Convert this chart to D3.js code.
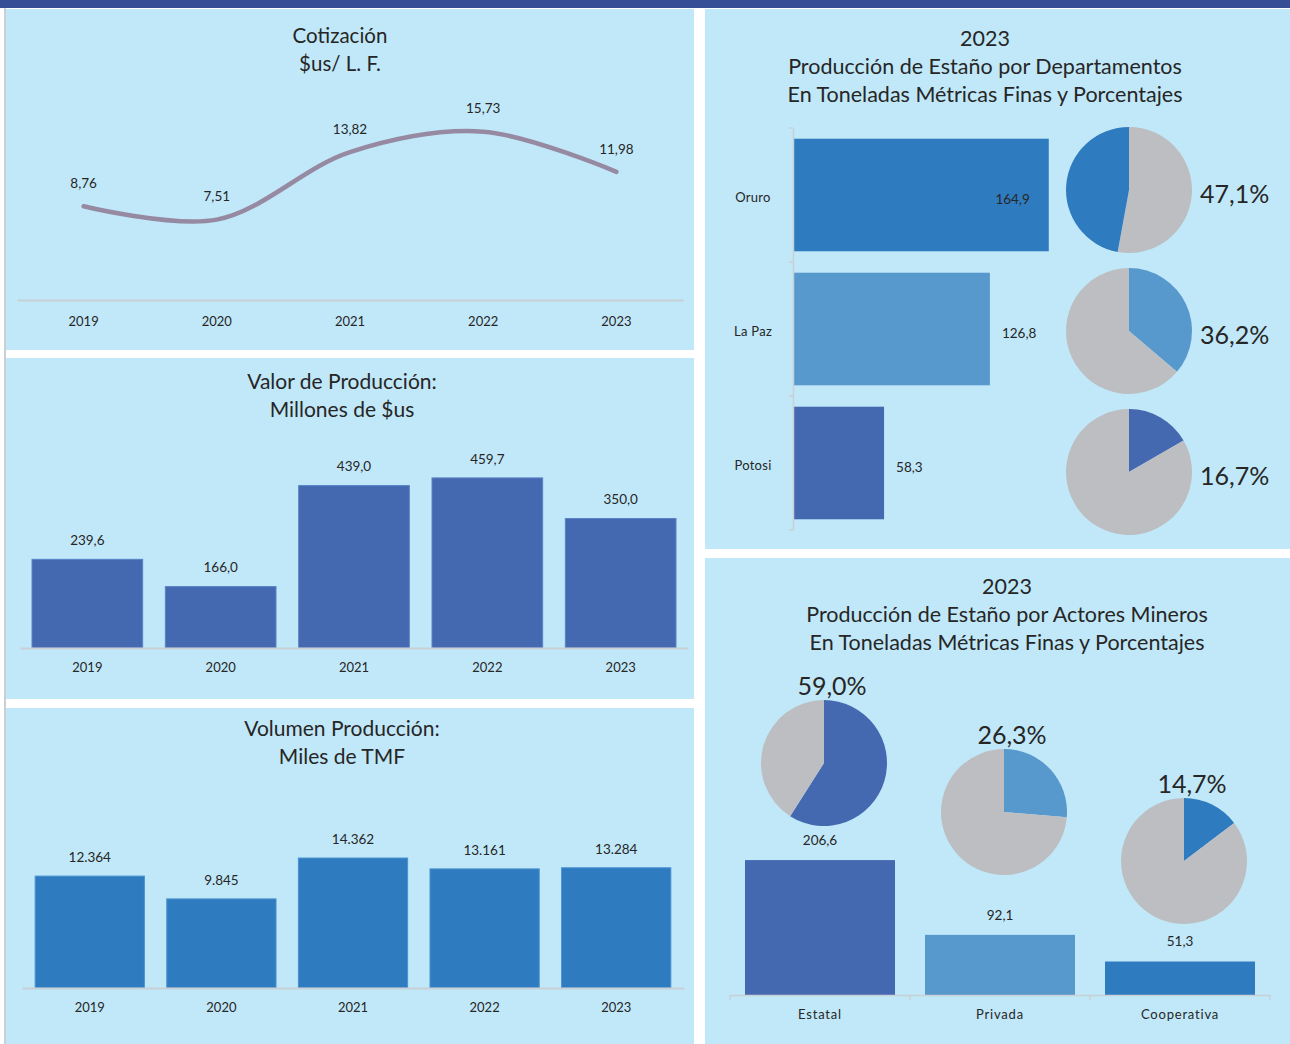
<!DOCTYPE html>
<html>
<head>
<meta charset="utf-8">
<script src="https://cdn.jsdelivr.net/npm/d3@7"></script>
<style>
  body { margin: 0; background: #fff; }
  text { font-family: Lato, "Open Sans", sans-serif; fill: #262626; }
</style>
</head>
<body>
<div id="chart"></div>
<script>
const years = ["2019", "2020", "2021", "2022", "2023"];
const cotizacion = [8.76, 7.51, 13.82, 15.73, 11.98];
const valorProduccion = [239.6, 166.0, 439.0, 459.7, 350.0];
const volumenProduccion = [12364, 9845, 14362, 13161, 13284];

const departamentos = ["Oruro", "La Paz", "Potosi"];
const deptToneladas = [164.9, 126.8, 58.3];
const deptColors = ["#2f7bbf", "#5899cd", "#4469b0"];

const actores = ["Estatal", "Privada", "Cooperativa"];
const actorToneladas = [206.6, 92.1, 51.3];
const actorColors = ["#4469b0", "#5899cd", "#2f7bbf"];

const pieGrey = "#bcbec2";
const panelFill = "#c1e8f9";
const axisGrey = "#c8cfd5";

const locale = d3.formatLocale({decimal: ",", thousands: ".", grouping: [3], currency: ["$", ""]});
const f2 = locale.format(".2f"), f1 = locale.format(".1f"), fInt = locale.format(",d");
const fPct = locale.format(".1%");

const width = 1290, height = 1044;
const svg = d3.select("#chart").append("svg")
  .attr("width", width).attr("height", height);

// frame
svg.append("rect").attr("x", 0).attr("y", 0).attr("width", width).attr("height", 8).attr("fill", "#354e96");
svg.append("line").attr("x1", 5).attr("x2", 5).attr("y1", 8).attr("y2", height).attr("stroke", "#9aa0a6").attr("stroke-width", 1);
const panels = [
  [6, 9, 688, 341], [6, 358, 688, 341], [6, 708, 688, 336],
  [705, 9, 585, 540], [705, 558, 585, 486]
];
svg.selectAll("rect.panel").data(panels).join("rect")
  .attr("class", "panel")
  .attr("x", d => d[0]).attr("y", d => d[1])
  .attr("width", d => d[2]).attr("height", d => d[3])
  .attr("fill", panelFill);

function title(lines, cx, y0, size) {
  svg.append("g").selectAll("text").data(lines).join("text")
    .attr("x", cx).attr("y", (d, i) => y0 + i * 28)
    .attr("dy", "0.35em")
    .attr("text-anchor", "middle")
    .style("font-size", size + "px")
    .text(d => d);
}

function styleAxis(g) {
  g.select(".domain").attr("stroke", axisGrey).attr("stroke-width", 2);
  g.selectAll(".tick line").remove();
  g.selectAll(".tick text").style("font-size", "13px").attr("fill", "#262626");
}

// ---- Cotización (line)
title(["Cotización", "$us/ L. F."], 340, 36, 20.5);
{
  const x = d3.scaleBand().domain(years).range([17, 683]);
  const y = d3.scaleLinear().domain([0, 20]).range([300, 86]);
  const cx = d => x(d) + x.bandwidth() / 2;
  const pts = years.map((yr, i) => ({yr, v: cotizacion[i]}));

  svg.append("g")
    .attr("transform", "translate(0,300)")
    .call(d3.axisBottom(x).tickSize(0).tickPadding(17))
    .call(styleAxis);

  const line = d3.line().curve(d3.curveCatmullRom.alpha(0.5))
    .x(d => cx(d.yr)).y(d => y(d.v));
  svg.append("path").datum(pts)
    .attr("d", line)
    .attr("fill", "none")
    .attr("stroke", "#968aa3")
    .attr("stroke-width", 4.5)
    .attr("stroke-linecap", "round");

  svg.append("g").selectAll("text").data(pts).join("text")
    .attr("x", d => cx(d.yr)).attr("y", d => y(d.v) - 23)
    .attr("dy", "0.35em").attr("text-anchor", "middle")
    .style("font-size", "13.5px")
    .text(d => f2(d.v));
}

// ---- vertical bar charts for years
function yearBars(values, fmt, opts) {
  const x = d3.scaleBand().domain(years).range(opts.xRange)
    .paddingInner(0.17).paddingOuter(opts.outer);
  const y = d3.scaleLinear().domain([0, opts.max]).range([opts.base, opts.top]);
  const data = years.map((yr, i) => ({yr, v: values[i]}));

  svg.append("g").selectAll("rect").data(data).join("rect")
    .attr("x", d => x(d.yr)).attr("y", d => y(d.v))
    .attr("width", x.bandwidth()).attr("height", d => y(0) - y(d.v))
    .attr("fill", opts.color)
    .attr("stroke", opts.edge).attr("stroke-width", 1);

  svg.append("g")
    .attr("transform", `translate(0,${opts.base})`)
    .call(d3.axisBottom(x).tickSize(0).tickPadding(15))
    .call(styleAxis);

  svg.append("g").selectAll("text").data(data).join("text")
    .attr("x", d => x(d.yr) + x.bandwidth() / 2).attr("y", d => y(d.v) - 19)
    .attr("dy", "0.35em").attr("text-anchor", "middle")
    .style("font-size", "13.5px")
    .text(d => fmt(d.v));
}

title(["Valor de Producción:", "Millones de $us"], 342, 382, 21);
yearBars(valorProduccion, f1, {xRange: [20, 688], outer: 0.09, max: 500, base: 648, top: 463, color: "#4469b0", edge: "#5b82c8"});

title(["Volumen Producción:", "Miles de TMF"], 342, 729, 21);
yearBars(volumenProduccion, fInt, {xRange: [22, 684], outer: 0.1, max: 20000, base: 988, top: 807, color: "#2f7bbf", edge: "#4a92d0"});

// ---- Departamentos (horizontal bars + pies)
title(["2023", "Producción de Estaño por Departamentos", "En Toneladas Métricas Finas y Porcentajes"], 985, 38, 21.5);
{
  const total = d3.sum(deptToneladas);
  const data = departamentos.map((d, i) => ({name: d, v: deptToneladas[i], color: deptColors[i], share: deptToneladas[i] / total, ccw: i === 0}));
  const y = d3.scaleBand().domain(departamentos).range([128, 530]).paddingInner(0.16).paddingOuter(0.08);
  const x = d3.scaleLinear().domain([0, 200]).range([794, 1103]);

  svg.append("g").selectAll("rect").data(data).join("rect")
    .attr("x", x(0)).attr("y", d => y(d.name))
    .attr("width", d => x(d.v) - x(0)).attr("height", y.bandwidth())
    .attr("fill", d => d.color);

  const ax = svg.append("g")
    .attr("transform", `translate(793,0)`)
    .call(d3.axisLeft(y).tickSize(0).tickPadding(20).tickSizeOuter(0));
  ax.select(".domain").attr("stroke", axisGrey).attr("stroke-width", 1.5);
  ax.selectAll(".tick text").style("font-size", "13px").attr("fill", "#262626")
    .attr("letter-spacing", "0.3px").attr("text-anchor", "middle").attr("x", -40).attr("dy", "0.55em");
  ax.selectAll("line.bound").data(d3.range(departamentos.length + 1)).join("line")
    .attr("class", "bound")
    .attr("x1", -4).attr("x2", 0)
    .attr("y1", i => y.range()[0] + i * (y.range()[1] - y.range()[0]) / departamentos.length)
    .attr("y2", i => y.range()[0] + i * (y.range()[1] - y.range()[0]) / departamentos.length)
    .attr("stroke", axisGrey).attr("stroke-width", 1.5);

  svg.append("g").selectAll("text").data(data).join("text")
    .attr("x", d => x(d.v) + 60 > x.range()[1] ? x(d.v) - 19 : x(d.v) + 12)
    .attr("y", d => y(d.name) + y.bandwidth() / 2 + 4)
    .attr("dy", "0.35em")
    .attr("text-anchor", d => x(d.v) + 60 > x.range()[1] ? "end" : "start")
    .style("font-size", "13.5px")
    .text(d => f1(d.v));

  const pieY = d3.scalePoint().domain(departamentos).range([190, 472]);
  const arc = d3.arc().innerRadius(0).outerRadius(63);
  const pie = d3.pie().sort(null).value(s => s.v);
  data.forEach(d => {
    const slices = [{v: d.share, c: d.color}, {v: 1 - d.share, c: pieGrey}];
    if (d.ccw) slices.reverse();
    const g = svg.append("g").attr("transform", `translate(1129,${pieY(d.name)})`);
    g.selectAll("path").data(pie(slices)).join("path")
      .attr("d", arc).attr("fill", s => s.data.c);
    svg.append("text")
      .attr("x", 1200).attr("y", pieY(d.name) + 4)
      .attr("dy", "0.35em")
      .style("font-size", "25px")
      .text(fPct(d.share));
  });
}

// ---- Actores mineros (vertical bars + pies)
title(["2023", "Producción de Estaño por Actores Mineros", "En Toneladas Métricas Finas y Porcentajes"], 1007, 586, 21.5);
{
  const total = d3.sum(actorToneladas);
  const data = actores.map((d, i) => ({name: d, v: actorToneladas[i], color: actorColors[i], share: actorToneladas[i] / total}));
  const x = d3.scaleBand().domain(actores).range([730, 1270]).paddingInner(0.1667).paddingOuter(0.0833);
  const y = d3.scaleLinear().domain([0, 250]).range([995, 831.75]);

  svg.append("g").selectAll("rect").data(data).join("rect")
    .attr("x", d => x(d.name)).attr("y", d => y(d.v))
    .attr("width", x.bandwidth()).attr("height", d => y(0) - y(d.v))
    .attr("fill", d => d.color);

  const ax = svg.append("g")
    .attr("transform", "translate(0,995)")
    .call(d3.axisBottom(x).tickSize(0).tickPadding(15).tickSizeOuter(0));
  ax.select(".domain").attr("stroke", axisGrey).attr("stroke-width", 1.5);
  ax.selectAll(".tick text").style("font-size", "13px").attr("fill", "#262626").attr("letter-spacing", "0.8px");
  ax.selectAll("line.bound").data(d3.range(actores.length + 1)).join("line")
    .attr("class", "bound")
    .attr("x1", i => x.range()[0] + i * x.step()).attr("x2", i => x.range()[0] + i * x.step())
    .attr("y1", 0).attr("y2", 5)
    .attr("stroke", axisGrey).attr("stroke-width", 1.5);

  svg.append("g").selectAll("text").data(data).join("text")
    .attr("x", d => x(d.name) + x.bandwidth() / 2).attr("y", d => y(d.v) - 20)
    .attr("dy", "0.35em").attr("text-anchor", "middle")
    .style("font-size", "13.5px")
    .text(d => f1(d.v));

  const pieY = d3.scalePoint().domain(actores).range([763, 861]);
  const arc = d3.arc().innerRadius(0).outerRadius(63);
  const pie = d3.pie().sort(null).value(s => s.v);
  data.forEach(d => {
    const cx = x(d.name) + x.bandwidth() / 2 + 4;
    const g = svg.append("g").attr("transform", `translate(${cx},${pieY(d.name)})`);
    g.selectAll("path").data(pie([{v: d.share, c: d.color}, {v: 1 - d.share, c: pieGrey}])).join("path")
      .attr("d", arc).attr("fill", s => s.data.c);
    svg.append("text")
      .attr("x", cx + 8).attr("y", pieY(d.name) - 77)
      .attr("dy", "0.35em").attr("text-anchor", "middle")
      .style("font-size", "25px")
      .text(fPct(d.share));
  });
}
</script>
</body>
</html>
